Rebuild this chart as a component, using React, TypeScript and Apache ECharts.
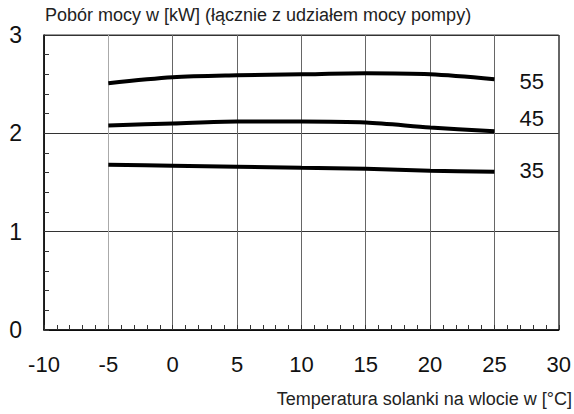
import React, { useEffect, useRef } from "react";
import * as echarts from "echarts";

const temps = [-5, 0, 5, 10, 15, 20, 25];
const s55 = [2.51, 2.57, 2.59, 2.6, 2.61, 2.6, 2.55];
const s45 = [2.08, 2.1, 2.12, 2.12, 2.11, 2.06, 2.02];
const s35 = [1.68, 1.67, 1.66, 1.65, 1.64, 1.62, 1.61];
const seriesNames = ["55", "45", "35"];
const yTitle = "Pobór mocy w [kW] (łącznie z udziałem mocy pompy)";
const xTitle = "Temperatura solanki na wlocie w [°C]";

const FONT = "'Liberation Sans', Arial, sans-serif";

export default function App() {
  const ref = useRef<HTMLDivElement>(null);
  useEffect(() => {
    document.body.style.margin = "0";
    document.documentElement.style.overflow = "hidden";
    document.body.style.overflow = "hidden";
    const chart = echarts.init(ref.current!, null, { renderer: "svg" });
    const data = [s55, s45, s35];
    const offsets = [[17, 2], [17, -12.5], [17, -1]];
    chart.setOption({
      animation: false,
      textStyle: { fontFamily: FONT },
      grid: { left: 44, right: 15, top: 35, bottom: 84, show: true, borderColor: "#333", borderWidth: 1 },
      graphic: [
        { type: "text", left: 45, top: 6, style: { text: yTitle, fontSize: 18, fill: "#222", fontFamily: FONT } },
        { type: "text", right: 2, top: 390, style: { text: xTitle, fontSize: 18, fill: "#222", fontFamily: FONT } },
      ],
      xAxis: {
        type: "value",
        min: -10,
        max: 30,
        interval: 5,
        axisLine: { show: true, onZero: false, lineStyle: { color: "#000", width: 1.5 } },
        axisTick: { show: true, inside: true, length: 5, lineStyle: { color: "#333" } },
        minorTick: { show: true, splitNumber: 5, length: 5, lineStyle: { color: "#333" } },
        axisLabel: { fontSize: 22, color: "#111", margin: 23, fontFamily: FONT },
        splitLine: { show: true, lineStyle: { color: ["#666", "#aaa", "#666", "#666", "#666", "#666", "#666", "#666", "#666"], width: 1 } },
      },
      yAxis: {
        type: "value",
        min: 0,
        max: 3,
        interval: 1,
        axisLine: { show: true, onZero: false, lineStyle: { color: "#000", width: 1.5 } },
        axisTick: { show: true, inside: true, length: 5, lineStyle: { color: "#333" } },
        minorTick: { show: true, splitNumber: 5, length: 5, lineStyle: { color: "#333" } },
        axisLabel: { fontSize: 23, color: "#111", margin: 22, fontFamily: FONT },
        splitLine: { show: true, lineStyle: { color: "#333", width: 1 } },
      },
      series: seriesNames.map((name, i) => ({
        name,
        type: "line",
        data: temps.map((t, j) => [t, data[i][j]]),
        smooth: 0.3,
        symbol: "none",
        lineStyle: { color: "#000", width: 4 },
        endLabel: {
          show: true,
          formatter: name,
          fontSize: 22,
          color: "#111",
          fontFamily: FONT,
          offset: offsets[i],
        },
      })),
    });
    return () => chart.dispose();
  }, []);
  return <div ref={ref} style={{ width: 574, height: 414 }} />;
}
